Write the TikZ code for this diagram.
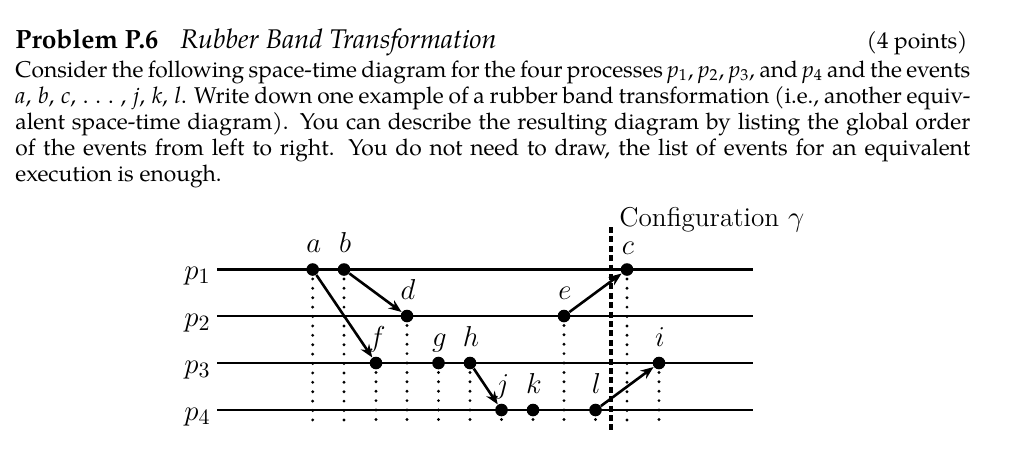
\documentclass[tikz,border=0pt]{standalone}
\usepackage{fontspec}
\newfontfamily\pala{TeX Gyre Pagella}
\usetikzlibrary{arrows.meta}
\begin{document}
\begin{tikzpicture}[x=0.5pt,y=-0.5pt,
  proc/.style={line width=1.45pt},
  ev/.style={circle,fill=black,inner sep=0pt,minimum size=6.3pt},
  msg/.style={line width=1.3pt,-{Stealth[length=6.5pt,width=5pt]}},
  dotv/.style={line width=1.6pt,line cap=round,dash pattern=on 0pt off 4.7pt},
  cfg/.style={line width=1.6pt,dash pattern=on 3pt off 1.7pt},
  lab/.style={font=\fontsize{14}{16}\selectfont,anchor=base,inner sep=0pt},
  plab/.style={font=\fontsize{15.5}{17}\selectfont,anchor=base east,inner sep=0pt},
  body/.style={font=\pala\fontsize{11.4}{13}\selectfont,anchor=base west,inner sep=0pt},
  head/.style={font=\pala\fontsize{13.2}{15}\selectfont,anchor=base west,inner sep=0pt}]
\useasboundingbox[fill=white] (0,0) rectangle (1017,457);

% ---- text ----
\node[head,font=\pala\fontsize{13.2}{15}\selectfont\bfseries] (title) at (15,48) {Problem P.6};
\node[head,font=\pala\fontsize{13.5}{15}\selectfont\itshape] (subtitle) at (180,48) {Rubber Band Transformation};
\node[body,anchor=base east] (points) at (968,48) {(4 points)};
\node[body] (l1) at (15,77) {\makebox[477.5pt][s]{Consider the following space-time diagram for the four processes \textit{p}\textsubscript{1}, \textit{p}\textsubscript{2}, \textit{p}\textsubscript{3}, and \textit{p}\textsubscript{4} and the events}};
\node[body] (l2) at (15,103.2) {\makebox[477.5pt][s]{\textit{a},\kern0.3em\textit{b},\kern0.3em\textit{c},\kern0.3em.\kern0.3em.\kern0.3em.\kern0.3em,\kern0.3em\textit{j},\kern0.3em\textit{k},\kern0.3em\textit{l}. Write down one example of a rubber band transformation (i.e., another equiv-}};
\node[body] (l3) at (15,129.4) {\makebox[477.5pt][s]{alent space-time diagram). You can describe the resulting diagram by listing the global order}};
\node[body] (l4) at (15,155.6) {\makebox[477.5pt][s]{of the events from left to right. You do not need to draw, the list of events for an equivalent}};
\node[body] (l5) at (15,181.8) {execution is enough.};

% ---- process lines ----
\foreach \n/\y in {1/269.5,2/316,3/363,4/410}{
  \coordinate (p\n s) at (217,\y);
  \coordinate (p\n e) at (753,\y);
  \draw[proc] (p\n s) -- (p\n e);
  \node[plab] (lp\n) at (211,\y+10) {$p_\n$};
}

% ---- configuration line ----
\coordinate (ct) at (611,227);
\coordinate (cb) at (611,430);
\draw[cfg] (ct) -- (cb);
\node[font=\fontsize{13.6}{16}\selectfont,anchor=base west,inner sep=0pt] (cfglab) at (619,226.5) {Configuration $\gamma$};

% ---- events ----
\foreach \e/\x/\y in {a/312.7/269.5, b/344/269.5, c/627/269.5,
                      d/407/316, e/564/316,
                      f/376/363, g/438.5/363, h/470/363, i/659/363,
                      j/501.5/410, k/533/410, l/595.5/410}{
  \coordinate (\e0) at (\x,427);
  \draw[dotv] (\x,\y) -- (\e0);
  \node[ev] (\e) at (\x,\y) {};
}
\foreach \e/\x/\y in {a/312.7/252.5, b/344/252.5, c/627/254.5,
                      d/407/299, e/564/299,
                      f/376/346, g/438.5/346, h/470/346, i/659/346,
                      j/501.5/393, k/533/393, l/595.5/393}{
  \node[lab] (lab\e) at (\x+1,\y) {$\e$};
}

% ---- messages ----
\draw[msg] (a) -- (f);
\draw[msg] (b) -- (d);
\draw[msg] (h) -- (j);
\draw[msg] (e) -- (c);
\draw[msg] (l) -- (i);
\end{tikzpicture}
\end{document}
